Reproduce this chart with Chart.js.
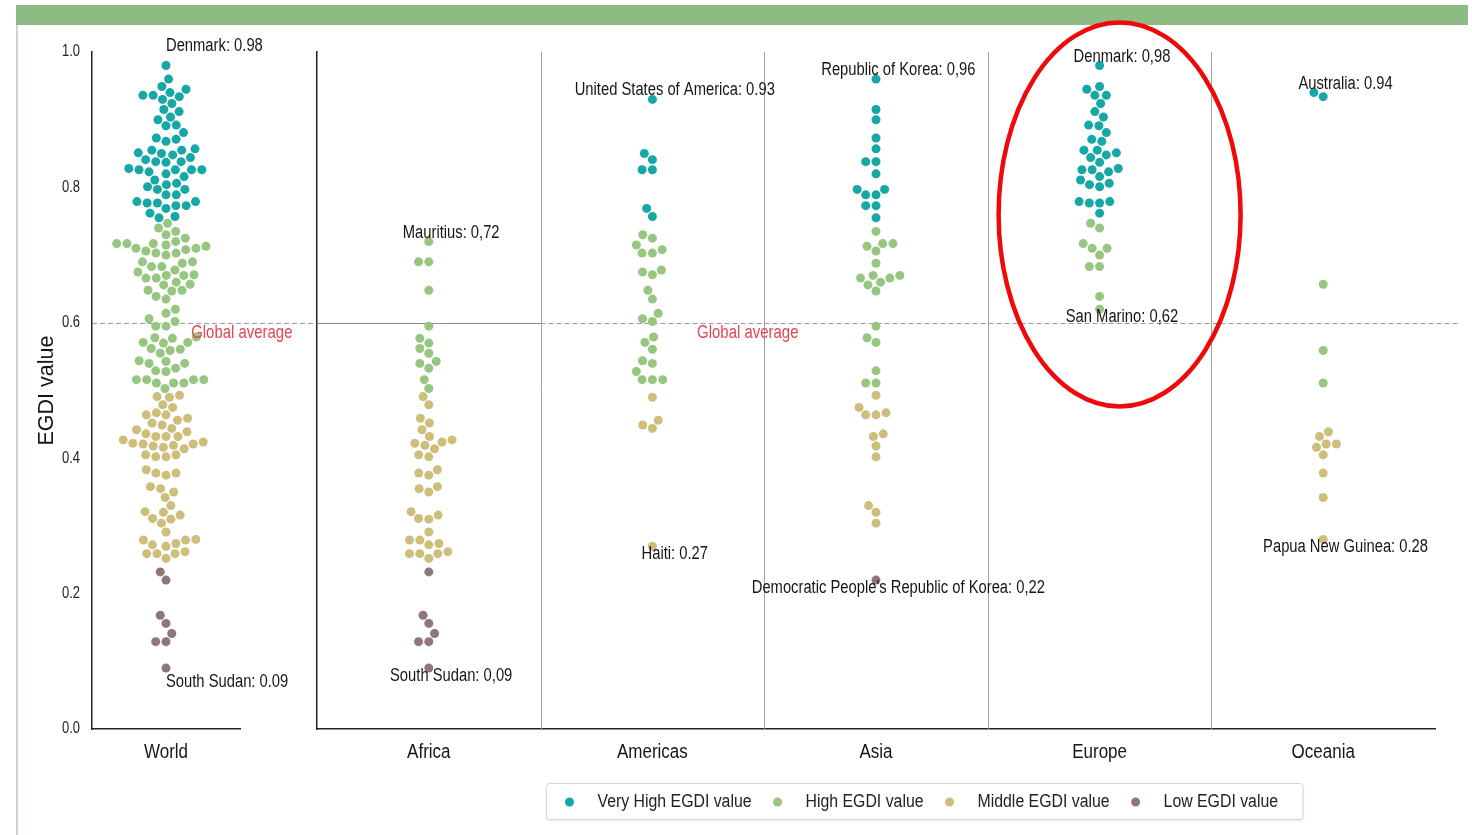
<!DOCTYPE html>
<html>
<head>
<meta charset="utf-8">
<title>EGDI values by region</title>
<script src="https://cdn.jsdelivr.net/npm/chart.js@4.4.1/dist/chart.umd.min.js"></script>
<style>
  html, body { margin: 0; padding: 0; background: #fff; }
  #frame { position: relative; width: 1472px; height: 835px; overflow: hidden; background: #fff; }
  #topbar { position: absolute; left: 16px; top: 5px; width: 1452px; height: 20px; background: #8dbb84; }
  #leftrule { position: absolute; left: 16px; top: 25px; width: 2px; height: 810px; background: #c6dbc1; }
  canvas { position: absolute; left: 0; top: 0; }
</style>
</head>
<body>
<div id="frame">
  <div id="topbar"></div>
  <div id="leftrule"></div>
  <canvas id="worldChart" width="1472" height="835"></canvas>
  <canvas id="regionChart" width="1472" height="835"></canvas>
</div>
<script>
// ---- EGDI values, one array per region (the World column pools them all) ----
const worldName = 'World';
const regionNames = ['Africa', 'Americas', 'Asia', 'Europe', 'Oceania'];

const africa = [
  0.72, 0.69, 0.69, 0.648, 0.595, 0.577, 0.570, 0.562, 0.555, 0.543, 0.540, 0.533, 0.516, 0.503,
  0.491, 0.479, 0.459, 0.452, 0.442, 0.432, 0.427, 0.424, 0.422, 0.419, 0.414, 0.405, 0.402,
  0.383, 0.378, 0.375, 0.358, 0.355, 0.350, 0.321, 0.316, 0.311, 0.310, 0.291, 0.279, 0.279,
  0.274, 0.272, 0.262, 0.259, 0.259, 0.259, 0.252,
  0.232, 0.168, 0.156, 0.141, 0.129, 0.129, 0.09
];
const americas = [
  0.93, 0.850, 0.841, 0.826, 0.826, 0.769, 0.757,
  0.730, 0.725, 0.715, 0.708, 0.703, 0.703, 0.678, 0.675, 0.671, 0.648, 0.635, 0.614, 0.606,
  0.602, 0.579, 0.571, 0.561, 0.544, 0.540, 0.528, 0.516, 0.516, 0.516,
  0.490, 0.456, 0.449, 0.444, 0.27
];
const asia = [
  0.96, 0.915, 0.900, 0.873, 0.857, 0.838, 0.838, 0.820, 0.797, 0.797, 0.789, 0.789, 0.773, 0.773, 0.755,
  0.735, 0.717, 0.717, 0.713, 0.706, 0.688, 0.670, 0.670, 0.666, 0.666, 0.660, 0.656, 0.647,
  0.595, 0.578, 0.571, 0.529, 0.511, 0.511,
  0.493, 0.475, 0.467, 0.464, 0.464, 0.436, 0.432, 0.418, 0.402, 0.330, 0.320, 0.304,
  0.22
];
const europe = [
  0.98, 0.949, 0.945, 0.936, 0.936, 0.924, 0.912, 0.904, 0.892, 0.891, 0.881, 0.871, 0.868,
  0.855, 0.855, 0.851, 0.848, 0.844, 0.837, 0.828, 0.826, 0.826, 0.823, 0.816, 0.811, 0.806,
  0.804, 0.801, 0.779, 0.779, 0.777, 0.777, 0.762,
  0.747, 0.740, 0.717, 0.710, 0.710, 0.700, 0.683, 0.683, 0.639, 0.62
];
const oceania = [
  0.94, 0.934, 0.657, 0.559, 0.511, 0.439, 0.432, 0.421, 0.421, 0.416, 0.405, 0.378, 0.342, 0.28
];
const regionValues = [africa, americas, asia, europe, oceania];
const worldValues = [].concat(...regionValues);

// EGDI level groups (lower bound of each level)
const groupNames  = ['Very High EGDI value', 'High EGDI value', 'Middle EGDI value', 'Low EGDI value'];
const groupFloors = [0.75, 0.5, 0.25, 0];
const groupColors = ['#17a7a6', '#97c680', '#cdbe7c', '#8e7679'];

const globalAverage = 0.6;
const yTickValues = [0, 0.2, 0.4, 0.6, 0.8, 1.0];

// call-outs for the highest / lowest country of each column
const worldNoteText  = ['Denmark: 0.98', 'South Sudan: 0.09'];
const worldNoteValue = [0.98, 0.09];
const worldNoteSide  = ['top', 'bottom'];

const regionNoteRegion = [0, 0, 1, 1, 2, 2, 3, 3, 4, 4];
const regionNoteText = [
  'Mauritius: 0,72', 'South Sudan: 0,09',
  'United States of America: 0.93', 'Haiti: 0.27',
  'Republic of Korea: 0,96', "Democratic People's Republic of Korea: 0,22",
  'Denmark: 0,98', 'San Marino: 0,62',
  'Australia: 0.94', 'Papua New Guinea: 0.28'
];
const regionNoteValue = [0.72, 0.09, 0.93, 0.27, 0.96, 0.22, 0.98, 0.62, 0.94, 0.28];
const regionNoteSide  = ['top', 'bottom', 'top', 'bottom', 'top', 'bottom', 'top', 'bottom', 'top', 'bottom'];

// ---- layout and style ----
const W = 1472, H = 835;
const PLOT_TOP = 52, PLOT_BOTTOM = 729;
const WORLD_LEFT = 92, WORLD_RIGHT = 240;
const REG_LEFT = 317, REG_RIGHT = 1435;
const FONT = '"Liberation Sans", Arial, "Helvetica Neue", sans-serif';
const INK = '#161616';
const SPINE = '#222';
const AVG_RED = '#e5444f';
const POINT_R = 4.5;
const SWARM_D = 9.8;
// narrow lettering: glyphs are drawn horizontally compressed
const TXT_TICK_X = { size: 20, sx: 0.85, color: INK };
const TXT_TICK_Y = { size: 16, sx: 0.81, color: '#222' };
const TXT_NOTE   = { size: 18, sx: 0.82, color: INK };
const TXT_AVG    = { size: 18, sx: 0.83, color: AVG_RED };
const TXT_LEGEND = { size: 18, sx: 0.88, color: '#222' };

Chart.defaults.font.family = FONT;
Chart.defaults.color = INK;
Chart.defaults.animation = false;

function narrowText(ctx, text, x, y, st, align = 'left', baseline = 'middle') {
  ctx.save();
  ctx.font = st.size + 'px ' + FONT;
  ctx.fillStyle = st.color;
  ctx.textAlign = align;
  ctx.textBaseline = baseline;
  ctx.translate(x, y);
  ctx.scale(st.sx, 1);
  ctx.fillText(text, 0, 0);
  ctx.restore();
}
function narrowWidth(ctx, text, st) {
  ctx.save();
  ctx.font = st.size + 'px ' + FONT;
  const w = ctx.measureText(text).width * st.sx;
  ctx.restore();
  return w;
}

function groupOf(v) {
  for (let g = 0; g < groupFloors.length; g++) if (v >= groupFloors[g]) return g;
  return groupFloors.length - 1;
}

// beeswarm: points are placed in ascending order, each at the free position closest to the centre line
function swarmOffsets(values, chart, cat) {
  const xs = chart.scales.x, ys = chart.scales.y;
  const unit = xs.getPixelForValue(cat + 1) - xs.getPixelForValue(cat);
  const order = values.map((v, i) => i).sort((a, b) => values[a] - values[b]);
  const placed = [];
  const off = new Array(values.length).fill(0);
  const d2 = SWARM_D * SWARM_D;
  for (const i of order) {
    const y = ys.getPixelForValue(values[i]);
    const near = placed.filter(p => Math.abs(p.y - y) < SWARM_D);
    const cands = [0];
    let leftFirst = true;
    for (const p of near) {
      const dx = Math.sqrt(Math.max(d2 - (p.y - y) ** 2, 0)) * 1.05;
      if (leftFirst) cands.push(p.x - dx, p.x + dx); else cands.push(p.x + dx, p.x - dx);
      leftFirst = !leftFirst;
    }
    const sorted = cands.map((c, k) => ({ c, k }))
      .sort((a, b) => (Math.abs(a.c) - Math.abs(b.c)) || (a.k - b.k));
    let x = sorted[0].c;
    for (const { c } of sorted) {
      if (near.every(p => (p.x - c) ** 2 + (p.y - y) ** 2 >= d2 - 1e-6)) { x = c; break; }
    }
    placed.push({ x, y });
    off[i] = x;
  }
  const gutter = 0.4 * unit;
  return off.map(o => Math.max(-gutter, Math.min(gutter, o)) / unit);
}

function buildDatasets(columns, offsets) {
  return groupNames.map((name, g) => ({
    label: name,
    data: columns.flatMap((vals, c) =>
      vals.map((v, i) => ({ x: c + offsets[c][i], y: v, g: groupOf(v) }))
    ).filter(p => p.g === g).map(p => ({ x: p.x, y: p.y })),
    backgroundColor: groupColors[g],
    borderWidth: 0,
    pointRadius: POINT_R,
    pointHoverRadius: POINT_R
  }));
}

function yScale(width, showTitle) {
  return {
    type: 'linear', min: 0, max: 1,
    afterFit(s) { s.width = width; },
    afterBuildTicks(s) { s.ticks = yTickValues.map(v => ({ value: v })); },
    ticks: { display: false },
    grid: { display: false, drawTicks: false },
    border: { display: true, color: SPINE, width: 1.5 },
    title: { display: showTitle, text: 'EGDI value', color: INK,
             font: { family: FONT, size: 21.5 }, padding: { top: 34, bottom: 0 } }
  };
}

function xScale(min, max, tickValues) {
  return {
    type: 'linear', min, max,
    afterFit(s) { s.height = H - PLOT_BOTTOM; },
    afterBuildTicks(s) { s.ticks = tickValues.map(v => ({ value: v })); },
    ticks: { display: false },
    grid: { display: false, drawTicks: false },
    border: { display: true, color: SPINE, width: 1.5 }
  };
}

// category names under the x axis
function drawXLabels(chart, names) {
  const x = chart.scales.x;
  names.forEach((n, i) => narrowText(chart.ctx, n, x.getPixelForValue(i), PLOT_BOTTOM + 23, TXT_TICK_X, 'center'));
}

function drawNotes(chart, texts, values, sides, xOf, align, upGap, downGap) {
  const y = chart.scales.y;
  texts.forEach((t, i) => {
    const py = y.getPixelForValue(values[i]) + (sides[i] === 'top' ? -upGap : downGap);
    narrowText(chart.ctx, t, xOf(i), py, TXT_NOTE, align);
  });
}

function drawAvgLabel(chart, xVal) {
  const { x, y } = chart.scales;
  narrowText(chart.ctx, 'Global average', x.getPixelForValue(xVal), y.getPixelForValue(globalAverage) + 1, TXT_AVG, 'left', 'top');
}

function dashedAvg(ctx, chart, x0, x1) {
  const yy = Math.round(chart.scales.y.getPixelForValue(globalAverage)) + 0.5;
  ctx.save();
  ctx.strokeStyle = '#9c9c9c';
  ctx.lineWidth = 1;
  ctx.setLineDash([5, 3]);
  ctx.beginPath(); ctx.moveTo(x0, yy); ctx.lineTo(x1, yy); ctx.stroke();
  ctx.restore();
}

// ---- World panel ----
const worldDecor = {
  id: 'worldDecor',
  beforeDatasetsDraw(chart) {
    dashedAvg(chart.ctx, chart, chart.chartArea.left, REG_LEFT);
  },
  afterDatasetsDraw(chart) {
    const { x, y } = chart.scales;
    const cx = x.getPixelForValue(0);
    drawNotes(chart, worldNoteText, worldNoteValue, worldNoteSide, () => cx, 'left', 20, 14);
    drawAvgLabel(chart, 0.17);
  },
  afterDraw(chart) {
    const y = chart.scales.y;
    y.ticks.forEach(t => narrowText(chart.ctx, t.value.toFixed(1), chart.chartArea.left - 12,
      y.getPixelForValue(t.value), TXT_TICK_Y, 'right'));
    drawXLabels(chart, [worldName]);
  }
};

const worldChart = new Chart(document.getElementById('worldChart'), {
  type: 'scatter',
  data: { datasets: buildDatasets([worldValues], [worldValues.map(() => 0)]) },
  options: {
    responsive: false,
    layout: { padding: { top: PLOT_TOP, left: 0, right: W - WORLD_RIGHT, bottom: 0 } },
    plugins: { legend: { display: false }, tooltip: { enabled: false } },
    scales: {
      x: xScale(-0.5, 0.5, [0]),
      y: yScale(WORLD_LEFT, true)
    }
  },
  plugins: [worldDecor]
});

// ---- regional panel ----
const regionDecor = {
  id: 'regionDecor',
  beforeDatasetsDraw(chart) {
    const { ctx, chartArea: a, scales: { x, y } } = chart;
    ctx.save();
    ctx.strokeStyle = '#a3a3a3';
    ctx.lineWidth = 1;
    for (let i = 0; i < regionNames.length - 1; i++) {
      const px = Math.round(x.getPixelForValue(i + 0.5)) + 0.5;
      ctx.beginPath(); ctx.moveTo(px, a.top); ctx.lineTo(px, a.bottom); ctx.stroke();
    }
    const yy = Math.round(y.getPixelForValue(globalAverage)) + 0.5;
    ctx.strokeStyle = '#8a8a8a';
    ctx.beginPath(); ctx.moveTo(x.getPixelForValue(-0.5), yy); ctx.lineTo(x.getPixelForValue(0.5), yy); ctx.stroke();
    ctx.restore();
    dashedAvg(ctx, chart, x.getPixelForValue(0.5), a.right + 25);
  },
  afterDatasetsDraw(chart) {
    const { ctx, scales: { x, y } } = chart;
    drawNotes(chart, regionNoteText, regionNoteValue, regionNoteSide,
      i => x.getPixelForValue(regionNoteRegion[i] + 0.1), 'center', 9, 8);
    drawAvgLabel(chart, 1.2);

    // highlight ring around Europe
    const euro = regionNames.indexOf('Europe');
    ctx.save();
    ctx.strokeStyle = '#ee0a0a';
    ctx.lineWidth = 4.5;
    ctx.beginPath();
    ctx.ellipse(x.getPixelForValue(euro) + 20, y.getPixelForValue(0.76), 121, 192, 0, 0, Math.PI * 2);
    ctx.stroke();
    ctx.restore();
  },
  afterDraw(chart) {
    drawXLabels(chart, regionNames);

    // legend box
    const { ctx } = chart;
    const items = chart.data.datasets.map(ds => ({ text: ds.label, color: ds.backgroundColor }));
    const padL = 23, dotToText = 28, gap = 26, padR = 25;
    const widths = items.map(it => dotToText + narrowWidth(ctx, it.text, TXT_LEGEND));
    const total = padL + widths.reduce((s, w) => s + w, 0) + gap * (items.length - 1) + padR;
    const centerX = 924, top = 783, h = 36;
    const left = Math.round(centerX - total / 2) + 0.5;
    ctx.save();
    ctx.shadowColor = 'rgba(0,0,0,0.12)';
    ctx.shadowBlur = 3;
    ctx.shadowOffsetY = 1;
    ctx.fillStyle = '#fff';
    ctx.strokeStyle = '#d6d6d6';
    ctx.lineWidth = 1;
    ctx.beginPath();
    ctx.roundRect(left, top + 0.5, total, h, 3);
    ctx.fill();
    ctx.shadowColor = 'transparent';
    ctx.stroke();
    ctx.restore();
    let cx = left + padL;
    const cy = top + h / 2 + 1;
    items.forEach((it, i) => {
      ctx.save();
      ctx.fillStyle = it.color;
      ctx.beginPath(); ctx.arc(cx, cy, 4.5, 0, Math.PI * 2); ctx.fill();
      ctx.restore();
      narrowText(ctx, it.text, cx + dotToText, cy, TXT_LEGEND, 'left');
      cx += widths[i] + gap;
    });
  }
};

const regionChart = new Chart(document.getElementById('regionChart'), {
  type: 'scatter',
  data: { datasets: buildDatasets(regionValues, regionValues.map(v => v.map(() => 0))) },
  options: {
    responsive: false,
    layout: { padding: { top: PLOT_TOP, left: 0, right: W - REG_RIGHT, bottom: 0 } },
    plugins: { legend: { display: false }, tooltip: { enabled: false } },
    scales: {
      x: xScale(-0.5, regionNames.length - 0.5, regionNames.map((n, i) => i)),
      y: yScale(REG_LEFT, false)
    }
  },
  plugins: [regionDecor]
});

// spread each column into a swarm now that the scales are laid out
worldChart.data.datasets = buildDatasets([worldValues], [swarmOffsets(worldValues, worldChart, 0)]);
worldChart.update('none');
regionChart.data.datasets = buildDatasets(regionValues, regionValues.map((vals, c) => swarmOffsets(vals, regionChart, c)));
regionChart.update('none');
</script>
</body>
</html>
